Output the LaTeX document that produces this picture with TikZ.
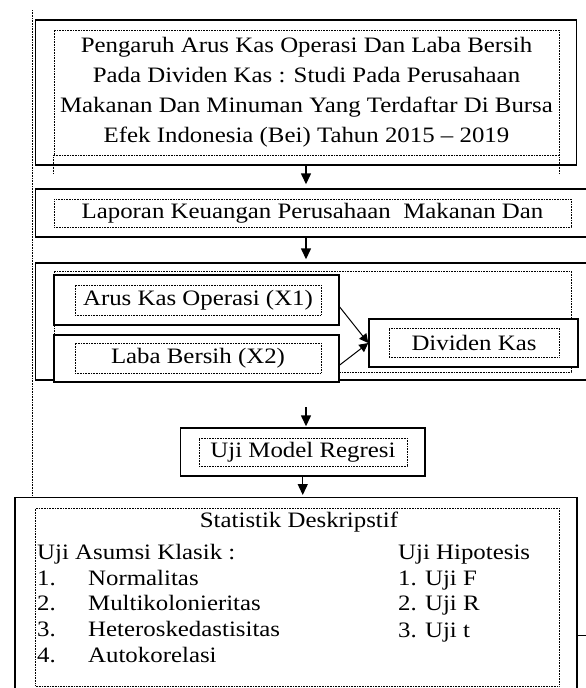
\documentclass[tikz,border=0pt]{standalone}
\usepackage{fontspec}
\setmainfont{Liberation Serif}[FakeStretch=1.13]
\usetikzlibrary{positioning, arrows.meta, calc}

\tikzset{
	solidbox/.style={draw=black, line width=1.4pt, fill=white, inner sep=0pt},
	dotbox/.style={draw=black, line width=0.8pt, dash pattern=on 0.8pt off 0.8pt, inner sep=0pt, align=center},
	dotline/.style={line width=0.8pt, dash pattern=on 0.8pt off 0.8pt},
	flow/.style={-{Triangle[length=11pt,width=10pt]}, line width=1.4pt},
	txt/.style={inner sep=0pt, anchor=base west}
}

\begin{document}
\begin{tikzpicture}[x=1pt, y=-1pt, font=\fontsize{22}{30}\selectfont]
	
	\useasboundingbox (0,0) rectangle (586,688);
	\clip (0,0) rectangle (586,688);
	
	% Guide line
	\coordinate (garisatas) at (32,10);
	\coordinate (garisbawah) at (32,495);
	\draw[dotline] (garisatas) -- (garisbawah);
	
	% Title
	\node[solidbox, minimum width=541.5pt, minimum height=145pt] (judul) at (306,92.5) {};
	\node[dotbox, minimum width=505pt, minimum height=125pt] (judulin) at (306.5,92.5) {Pengaruh Arus Kas Operasi Dan Laba Bersih\\ Pada Dividen Kas : Studi Pada Perusahaan\\ Makanan Dan Minuman Yang Terdaftar Di Bursa\\ Efek Indonesia (Bei) Tahun 2015 -- 2019};
	\draw[dotline] (judulin.south west) -- ++(0,18);
	\draw[dotline] (judulin.south east) -- ++(0,18);
	
	% Data
	\node[solidbox, minimum width=565pt, minimum height=48pt] (laporan) at (318,213) {};
	\node[dotbox, minimum width=517pt, minimum height=28pt] (laporanin) at (312.5,213) {Laporan Keuangan Perusahaan\ \ Makanan Dan};
	
	% Variables
	\node[solidbox, minimum width=565pt, minimum height=117pt] (variabel) at (318,321.5) {};
	\node[dotbox, minimum width=517pt, minimum height=101pt] (variabelin) at (312.5,321.5) {};
	
	\node[solidbox, minimum width=285pt, minimum height=50pt] (xsatu) at (196.5,300) {};
	\node[dotbox, minimum width=246pt, minimum height=30pt] (xsatuin) at (198,300) {Arus Kas Operasi (X1)};
	
	\node[solidbox, minimum width=285pt, minimum height=47pt] (xdua) at (196.5,358.5) {};
	\node[dotbox, minimum width=246pt, minimum height=30pt] (xduain) at (198,358) {Laba Bersih (X2)};
	
	\node[solidbox, minimum width=209pt, minimum height=48pt] (dividen) at (473.5,343) {};
	\node[dotbox, minimum width=170pt, minimum height=29pt] (dividenin) at (474,342.5) {Dividen Kas};
	
	% Regression
	\coordinate (celah) at (306,407);
	\node[solidbox, minimum width=244.5pt, minimum height=48pt] (regresi) at (302.75,452) {};
	\node[dotbox, minimum width=208pt, minimum height=28pt] (regresiin) at (303,452) {Uji Model Regresi};
	
	% Analysis
	\node[solidbox, minimum width=562pt, minimum height=240pt, anchor=north] (akhir) at (296,497) {};
	\node[dotbox, minimum width=523.5pt, minimum height=178pt] (akhirin) at (297.25,597) {};
	
	\node[txt, anchor=base] (deskriptif) at (299,527) {Statistik Deskripstif};
	\node[txt] (asumsi) at (37,559) {Uji Asumsi Klasik :};
	\node[txt] (nomor1) at (37,585) {1.};
	\node[txt] (nomor2) at (37,610) {2.};
	\node[txt] (nomor3) at (37,636) {3.};
	\node[txt] (nomor4) at (37,662) {4.};
	\node[txt] (normal) at (88,585) {Normalitas};
	\node[txt] (multi) at (88,610) {Multikolonieritas};
	\node[txt] (hetero) at (88,636) {Heteroskedastisitas};
	\node[txt] (auto) at (88,662) {Autokorelasi};
	
	\node[txt] (hipotesis) at (398,559) {Uji Hipotesis};
	\node[txt] (ujif) at (398,585) {1. Uji F};
	\node[txt] (ujir) at (398,610) {2. Uji R};
	\node[txt] (ujit) at (398,637) {3. Uji t};
	
	\coordinate (sisa) at (586,635);
	\draw[line width=0.6pt] (akhir.north east |- sisa) -- (sisa);
	
	% Connections
	\draw[flow, shorten >=4pt] (judul.south) -- (judul.south |- laporan.north);
	\draw[flow, shorten >=3pt] (laporan.south -| judul.south) -- (judul.south |- variabel.north);
	\draw[flow, shorten >=1pt] (celah) -- (celah |- regresi.north);
	\draw[flow, shorten >=2pt] (regresi.south) -- (regresi.south |- akhir.north);
	
	\draw[line width=1pt, -{Triangle[length=9pt,width=9pt]}] ($(xsatu.east)+(0,7)$) -- (dividen.west);
	\draw[line width=1pt, -{Triangle[length=9pt,width=9pt]}] ($(xdua.east)+(0,6.5)$) -- (dividen.west);
	
\end{tikzpicture}
\end{document}
